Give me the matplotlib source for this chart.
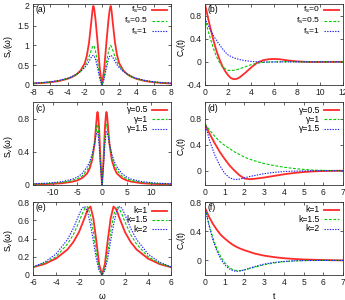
import matplotlib
matplotlib.use("Agg")
import matplotlib.pyplot as plt

plt.rcParams['font.family'] = ['Liberation Sans', 'DejaVu Sans']
plt.rcParams['mathtext.fontset'] = 'custom'
plt.rcParams['mathtext.rm'] = 'Liberation Sans'
plt.rcParams['mathtext.it'] = 'Liberation Sans'

# ---------------- data ----------------
# (a) spectra vs omega for f_s
w_a = [-8, -7, -6, -5, -4, -3.5, -3, -2.5, -2, -1.75, -1.5, -1.25, -1.1, -1, -0.9, -0.75, -0.5, -0.25, 0,
       0.25, 0.5, 0.75, 0.9, 1, 1.1, 1.25, 1.5, 1.75, 2, 2.5, 3, 3.5, 4, 5, 6, 7, 8]
Sa_fs0 = [0.04, 0.05, 0.07, 0.1, 0.155, 0.2, 0.26, 0.36, 0.55, 0.75, 1.08, 1.58, 1.9, 2.0, 1.92, 1.65, 1.05, 0.4, 0,
          0.4, 1.05, 1.65, 1.92, 2.0, 1.9, 1.58, 1.08, 0.75, 0.55, 0.36, 0.26, 0.2, 0.155, 0.1, 0.07, 0.05, 0.04]
Sa_fs05 = [0.043, 0.055, 0.075, 0.105, 0.16, 0.2, 0.26, 0.34, 0.48, 0.58, 0.72, 0.88, 0.97, 1.0, 0.97, 0.85, 0.55, 0.2, 0,
           0.2, 0.55, 0.85, 0.97, 1.0, 0.97, 0.88, 0.72, 0.58, 0.48, 0.34, 0.26, 0.2, 0.16, 0.105, 0.075, 0.055, 0.043]
Sa_fs1 = [0.045, 0.06, 0.08, 0.115, 0.17, 0.21, 0.27, 0.34, 0.44, 0.51, 0.6, 0.7, 0.74, 0.75, 0.73, 0.65, 0.42, 0.15, 0,
          0.15, 0.42, 0.65, 0.73, 0.75, 0.74, 0.7, 0.6, 0.51, 0.44, 0.34, 0.27, 0.21, 0.17, 0.115, 0.08, 0.06, 0.045]

# (b) correlation vs t for f_s
t_b = [0, 0.25, 0.5, 0.75, 1, 1.25, 1.5, 1.75, 2, 2.25, 2.5, 2.75, 3, 3.5, 4, 4.5, 5, 5.5, 6, 6.5, 7, 7.5, 8, 9, 10, 11, 12]
Cb_fs0 = [1.0, 0.77, 0.56, 0.36, 0.19, 0.05, -0.07, -0.16, -0.23, -0.28, -0.3, -0.295, -0.27, -0.19, -0.1, -0.02,
          0.025, 0.045, 0.05, 0.045, 0.03, 0.018, 0.008, -0.002, -0.002, 0, 0]
Cb_fs05 = [0.75, 0.55, 0.38, 0.22, 0.09, -0.01, -0.08, -0.12, -0.145, -0.15, -0.145, -0.135, -0.12, -0.085, -0.05,
           -0.025, -0.01, -0.003, 0, 0.002, 0.002, 0.001, 0, 0, 0, 0, 0]
Cb_fs1 = [0.75, 0.64, 0.54, 0.45, 0.37, 0.3, 0.23, 0.17, 0.12, 0.095, 0.07, 0.055, 0.04, 0.02, 0.008, 0.002,
          -0.002, -0.003, -0.003, -0.002, 0, 0, 0, 0, 0, 0, 0]

# (c) spectra vs omega for gamma
w_c = [-14, -12, -10, -8, -6, -5, -4, -3, -2.5, -2, -1.5, -1.2, -1, -0.9, -0.8, -0.6, -0.3, 0,
       0.3, 0.6, 0.8, 0.9, 1, 1.2, 1.5, 2, 2.5, 3, 4, 5, 6, 8, 10, 12, 14]
Sc_g05 = [0.007, 0.01, 0.014, 0.022, 0.04, 0.055, 0.085, 0.14, 0.2, 0.3, 0.5, 0.72, 0.86, 0.88, 0.85, 0.7, 0.3, 0,
          0.3, 0.7, 0.85, 0.88, 0.86, 0.72, 0.5, 0.3, 0.2, 0.14, 0.085, 0.055, 0.04, 0.022, 0.014, 0.01, 0.007]
Sc_g1 = [0.011, 0.015, 0.021, 0.032, 0.055, 0.075, 0.11, 0.18, 0.24, 0.34, 0.5, 0.64, 0.72, 0.73, 0.7, 0.58, 0.25, 0,
         0.25, 0.58, 0.7, 0.73, 0.72, 0.64, 0.5, 0.34, 0.24, 0.18, 0.11, 0.075, 0.055, 0.032, 0.021, 0.015, 0.011]
Sc_g15 = [0.015, 0.02, 0.028, 0.042, 0.07, 0.095, 0.14, 0.22, 0.28, 0.37, 0.5, 0.6, 0.64, 0.64, 0.61, 0.5, 0.22, 0,
          0.22, 0.5, 0.61, 0.64, 0.64, 0.6, 0.5, 0.37, 0.28, 0.22, 0.14, 0.095, 0.07, 0.042, 0.028, 0.02, 0.015]

# (d) correlation vs t for gamma
t_d = [0, 0.25, 0.5, 0.75, 1, 1.25, 1.5, 1.75, 2, 2.25, 2.5, 3, 3.5, 4, 4.5, 5, 5.5, 6, 7]
Cd_g05 = [0.72, 0.56, 0.42, 0.29, 0.18, 0.08, 0.0, -0.07, -0.12, -0.13, -0.125, -0.105, -0.08, -0.055, -0.035,
          -0.02, -0.01, -0.004, 0]
Cd_g1 = [0.72, 0.62, 0.53, 0.45, 0.39, 0.34, 0.29, 0.25, 0.21, 0.18, 0.155, 0.11, 0.08, 0.055, 0.035, 0.02, 0.01,
         0.005, 0]
Cd_g15 = [0.72, 0.45, 0.24, 0.08, -0.04, -0.11, -0.135, -0.13, -0.11, -0.09, -0.075, -0.045, -0.025, -0.012,
          -0.006, -0.003, -0.001, 0, 0]

# (e) spectra vs omega for k
w_e = [-6, -5, -4, -3, -2.5, -2, -1.75, -1.5, -1.25, -1, -0.75, -0.5, -0.25, 0,
       0.25, 0.5, 0.75, 1, 1.25, 1.5, 1.75, 2, 2.5, 3, 4, 5, 6]
Se_k1 = [0.085, 0.12, 0.18, 0.28, 0.36, 0.47, 0.55, 0.63, 0.72, 0.75, 0.62, 0.38, 0.12, 0,
         0.12, 0.38, 0.62, 0.75, 0.72, 0.63, 0.55, 0.47, 0.36, 0.28, 0.18, 0.12, 0.085]
Se_k15 = [0.085, 0.13, 0.2, 0.34, 0.44, 0.58, 0.66, 0.73, 0.75, 0.65, 0.47, 0.25, 0.07, 0,
          0.07, 0.25, 0.47, 0.65, 0.75, 0.73, 0.66, 0.58, 0.44, 0.34, 0.2, 0.13, 0.085]
Se_k2 = [0.09, 0.14, 0.23, 0.39, 0.51, 0.66, 0.73, 0.75, 0.69, 0.55, 0.37, 0.18, 0.05, 0,
         0.05, 0.18, 0.37, 0.55, 0.69, 0.75, 0.73, 0.66, 0.51, 0.39, 0.23, 0.14, 0.09]

# (f) correlation vs t for k
t_f = [0, 0.2, 0.4, 0.6, 0.8, 1, 1.2, 1.4, 1.6, 1.8, 2, 2.5, 3, 3.5, 4, 4.5, 5, 6, 7]
Cf_k1 = [0.72, 0.6, 0.5, 0.42, 0.35, 0.3, 0.255, 0.215, 0.185, 0.16, 0.14, 0.095, 0.065, 0.045, 0.03, 0.02,
         0.013, 0.005, 0]
Cf_k15 = [0.72, 0.5, 0.31, 0.16, 0.05, -0.03, -0.09, -0.125, -0.14, -0.14, -0.13, -0.095, -0.06, -0.035, -0.018,
          -0.008, -0.003, 0, 0]
Cf_k2 = [0.72, 0.48, 0.28, 0.13, 0.02, -0.06, -0.11, -0.14, -0.15, -0.145, -0.13, -0.085, -0.05, -0.028, -0.014,
         -0.006, -0.002, 0, 0]

labels_fs = ['f$_s$=0', 'f$_s$=0.5', 'f$_s$=1']
labels_g = ['γ=0.5', 'γ=1', 'γ=1.5']
labels_k = ['k=1', 'k=1.5', 'k=2']

# ---------------- figure ----------------
W, H = 345, 300
fig = plt.figure(figsize=(W / 100, H / 100), dpi=100)

def box(l, t, r, b):
    return [l / W, 1 - b / H, (r - l) / W, (b - t) / H]

FS = 6.2
styles = [dict(color='#ff2a2a', lw=1.3, ls='-'),
          dict(color='#00cc00', lw=0.8, ls=(0, (2.5, 1.5))),
          dict(color='#1a1aff', lw=0.8, ls=(0, (1.2, 1.2)))]

def setup(ax, hpx, xlim, ylim, xticks, yticks, xtl, ytl, tag, ylabel, ylab_x):
    ax.set_xlim(*xlim)
    ax.set_ylim(*ylim)
    ax.set_xticks(xticks)
    ax.set_yticks(yticks)
    ax.set_xticklabels(xtl)
    ax.set_yticklabels(ytl)
    ax.tick_params(direction='in', length=2.5, width=0.5, labelsize=FS, pad=2.5,
                   top=True, right=True, colors='#222222')
    for s in ax.spines.values():
        s.set_linewidth(0.6)
        s.set_color('#333333')
    ax.text(3 / 138, 1 - 1.5 / hpx, tag, transform=ax.transAxes, fontsize=FS, va='top', ha='left')
    ax.set_ylabel(ylabel, fontsize=FS)
    ax.yaxis.set_label_coords(ylab_x, 0.47)

def draw(ax, hpx, x, ys, labels, y0, dy, fs=FS):
    for i, (y, lab, st) in enumerate(zip(ys, labels, styles)):
        ax.plot(x, y, **st)
        yy = 1 - (y0 + i * dy) / hpx
        ax.text(1 - 23 / 138, yy, lab, transform=ax.transAxes, fontsize=fs,
                ha='right', va='center')
        ax.plot([1 - 19 / 138, 1 - 4 / 138], [yy, yy], transform=ax.transAxes, **st)

LEFT_YL = (15 - 33) / 138
RIGHT_YL = (188 - 205) / 138

# (a)
ax = fig.add_axes(box(33, 4, 171, 85))
draw(ax, 81, w_a, [Sa_fs0, Sa_fs05, Sa_fs1], labels_fs, 5.5, 11.0, 6.0)
setup(ax, 81, (-8, 8), (0, 2.05), [-8, -6, -4, -2, 0, 2, 4, 6, 8], [0, 0.5, 1, 1.5, 2],
      ['-8', '-6', '-4', '-2', '0', '2', '4', '6', '8'], ['0', '0.5', '1', '1.5', '2'], '(a)', 'S$_v$(ω)', LEFT_YL)

# (b)
ax = fig.add_axes(box(205, 4, 343, 85))
draw(ax, 81, t_b, [Cb_fs0, Cb_fs05, Cb_fs1], labels_fs, 5.5, 11.0, 6.0)
setup(ax, 81, (0, 12), (-0.4, 1.0), [0, 2, 4, 6, 8, 10, 12], [-0.4, 0, 0.4, 0.8],
      ['0', '2', '4', '6', '8', '10', '12'], ['-0.4', '0', '0.4', '0.8'], '(b)', 'C$_v$(t)', RIGHT_YL)

# (c)
ax = fig.add_axes(box(33, 102, 171, 185))
draw(ax, 83, w_c, [Sc_g05, Sc_g1, Sc_g15], labels_g, 7.5, 9.5)
setup(ax, 83, (-14, 14), (0, 1.0), [-10, -5, 0, 5, 10], [0, 0.4, 0.8],
      ['-10', '-5', '0', '5', '10'], ['0', '0.4', '0.8'], '(c)', 'S$_v$(ω)', LEFT_YL)

# (d)
ax = fig.add_axes(box(205, 102, 343, 185))
draw(ax, 83, t_d, [Cd_g05, Cd_g1, Cd_g15], labels_g, 8.0, 9.3)
setup(ax, 83, (0, 7), (-0.22, 1.06), [0, 1, 2, 3, 4, 5, 6, 7], [0, 0.4, 0.8],
      ['0', '1', '2', '3', '4', '5', '6', '7'], ['0', '0.4', '0.8'], '(d)', 'C$_v$(t)', RIGHT_YL)

# (e)
ax = fig.add_axes(box(33, 202, 171, 275))
draw(ax, 73, w_e, [Se_k1, Se_k15, Se_k2], labels_k, 8.5, 9.3)
setup(ax, 73, (-6, 6), (0, 0.8), [-6, -4, -2, 0, 2, 4, 6], [0, 0.2, 0.4, 0.6, 0.8],
      ['-6', '-4', '-2', '0', '2', '4', '6'], ['0', '0.2', '0.4', '0.6', '0.8'], '(e)', 'S$_v$(ω)', LEFT_YL)
ax.set_xlabel('ω', fontsize=FS, labelpad=3)

# (f)
ax = fig.add_axes(box(205, 202, 343, 275))
draw(ax, 73, t_f, [Cf_k1, Cf_k15, Cf_k2], labels_k, 8.0, 9.3)
setup(ax, 73, (0, 7), (-0.2, 0.8), [0, 1, 2, 3, 4, 5, 6, 7], [0, 0.4, 0.8],
      ['0', '1', '2', '3', '4', '5', '6', '7'], ['0', '0.4', '0.8'], '(f)', 'C$_v$(t)', RIGHT_YL)
ax.set_xlabel('t', fontsize=FS, labelpad=3)

fig.savefig('out.png', dpi=100)
